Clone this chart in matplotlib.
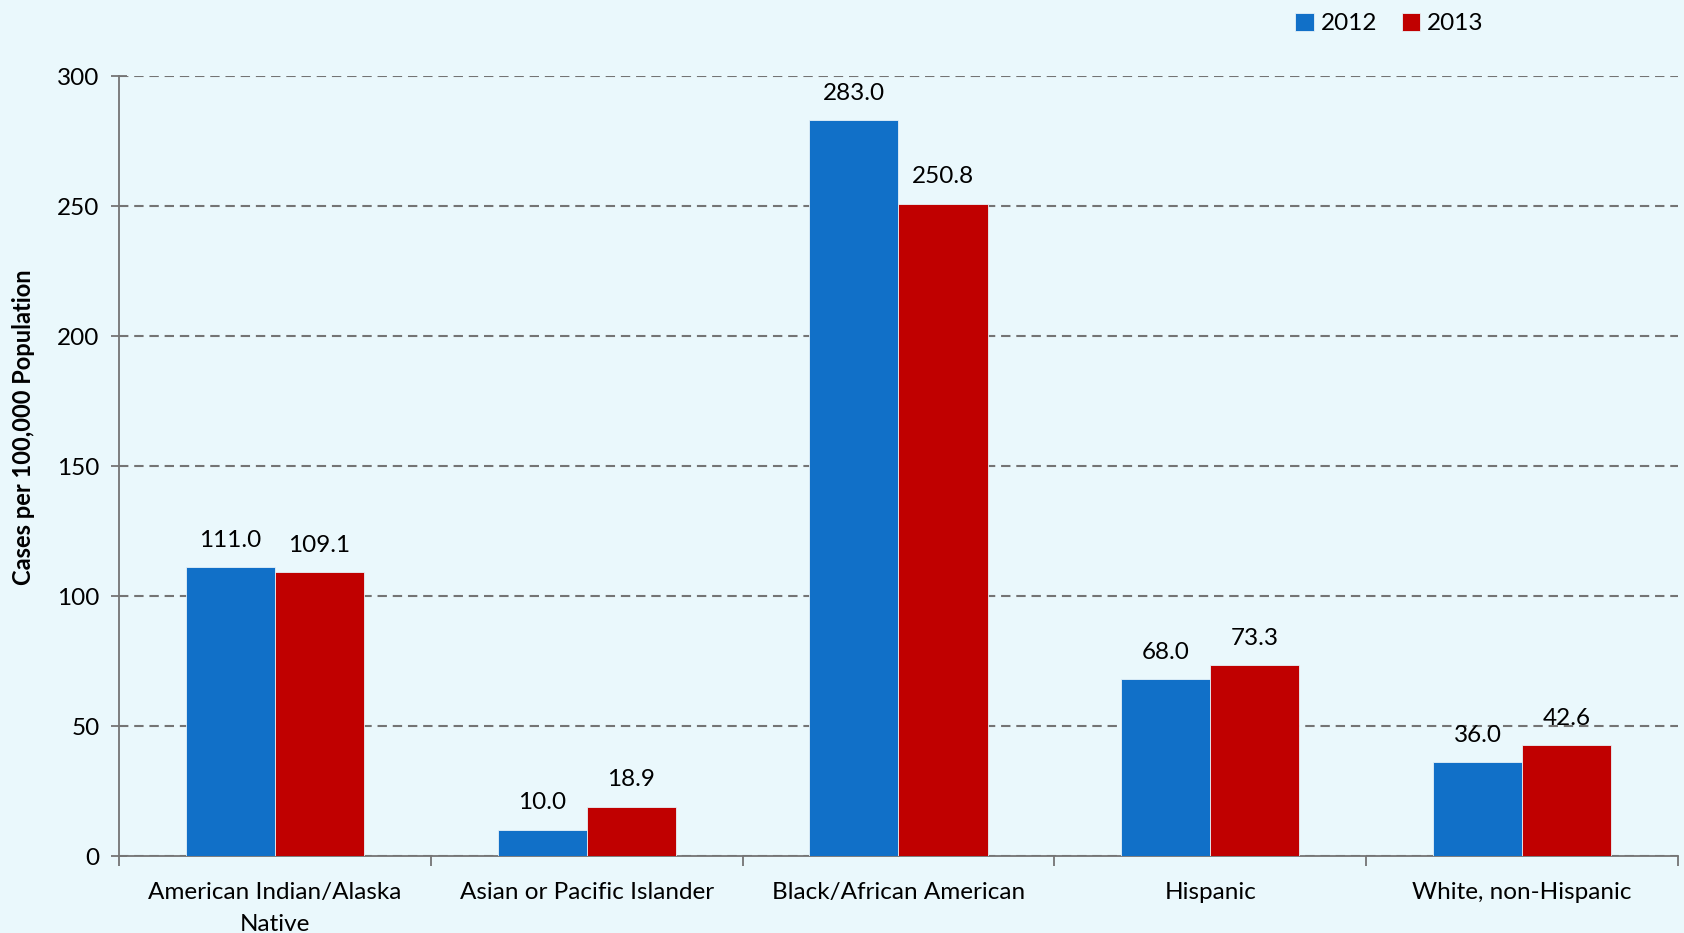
import numpy as np
import matplotlib
matplotlib.use("Agg")
import matplotlib.pyplot as plt

# ── Data ──────────────────────────────────────────────────────────────────────
categories = ["American Indian/Alaska\nNative", "Asian or Pacific Islander",
              "Black/African American", "Hispanic", "White, non-Hispanic"]
rates_2012 = [111.0, 10.0, 283.0, 68.0, 36.0]
rates_2013 = [109.1, 18.9, 250.8, 73.3, 42.6]
years = ["2012", "2013"]

# ── Style ─────────────────────────────────────────────────────────────────────
BG    = "#EAF8FC"
BLUE  = "#1170C8"
RED   = "#C00000"
GRAY  = "#747474"
plt.rcParams["font.family"] = ["Lato", "DejaVu Sans"]

fig = plt.figure(figsize=(16.84, 9.33), dpi=100, facecolor=BG)
ax = fig.add_axes([0.0707, 0.0825, 0.9257, 0.836])
ax.set_facecolor(BG)

x = np.arange(len(categories))
w = 1 / 3.5
b1 = ax.bar(x - w / 2, rates_2012, w, color=BLUE, edgecolor="#E6F2F8",
            linewidth=0.6, label=years[0], zorder=3)
b2 = ax.bar(x + w / 2, rates_2013, w, color=RED, edgecolor="#E6F2F8",
            linewidth=0.6, label=years[1], zorder=3)

for bars in (b1, b2):
    for r in bars:
        v = r.get_height()
        ax.annotate(f"{v:.1f}", (r.get_x() + r.get_width() / 2, v),
                    xytext=(0, 12), textcoords="offset points",
                    ha="center", va="bottom", fontsize=17.5, color="black")

ax.set_xlim(-0.5, len(categories) - 0.5)
ax.set_ylim(0, 300)
ax.set_yticks(np.arange(0, 301, 50))
ax.yaxis.grid(True, linestyle=(0, (4.5, 2.8)), color=GRAY, linewidth=1.5,
              zorder=0)
ax.set_axisbelow(True)

ax.set_xticks(x)
ax.set_xticklabels(categories, fontsize=17.5, linespacing=1.6)
ax.tick_params(axis="x", length=0, pad=19)
ax.set_xticks(np.arange(-0.5, len(categories)), minor=True)
ax.tick_params(axis="x", which="minor", length=7, width=1.3, color=GRAY,
               direction="out")
ax.tick_params(axis="y", labelsize=17.5, length=12, width=1.3, color=GRAY,
               direction="inout", pad=8)

for s in ("top", "right"):
    ax.spines[s].set_visible(False)
for s in ("left", "bottom"):
    ax.spines[s].set_color(GRAY)
    ax.spines[s].set_linewidth(1.3)

ax.set_ylabel("Cases per 100,000 Population", fontsize=17, fontweight="bold")
ax.yaxis.set_label_coords(-0.054, 0.55)

ax.legend(loc="upper left", bbox_to_anchor=(0.7405, 1.109), ncol=2,
          frameon=False, fontsize=17.5, handlelength=0.75, handleheight=0.75,
          handletextpad=0.3, columnspacing=1.0)

fig.savefig("out.png", dpi=100, facecolor=BG)
